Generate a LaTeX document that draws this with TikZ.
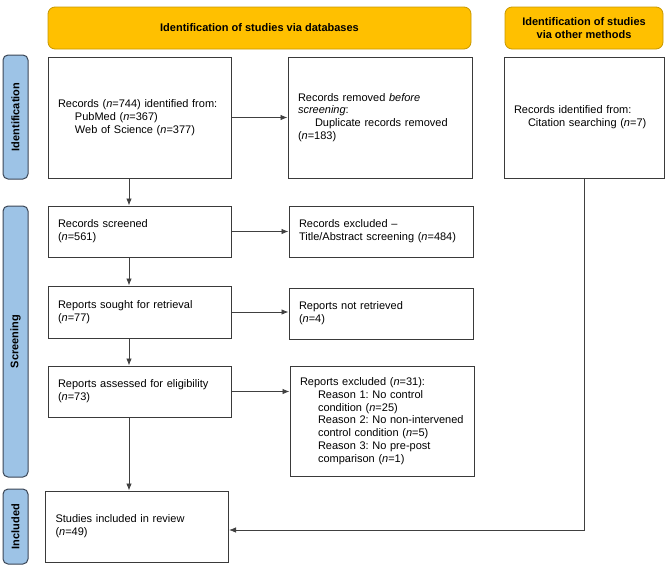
\documentclass[tikz,border=0pt]{standalone}
\usepackage{fontspec}
\setmainfont{Liberation Sans}
\usetikzlibrary{arrows.meta,calc}
\definecolor{hdrfill}{HTML}{FFC000}
\definecolor{hdrline}{HTML}{C89800}
\definecolor{sidefill}{HTML}{9DC3E6}
\definecolor{sideline}{HTML}{3B4656}
\definecolor{boxline}{HTML}{3A3A3A}
\definecolor{arrline}{HTML}{404040}
\newcommand{\nn}{\textit{n}}
\begin{document}
\begin{tikzpicture}[x=1pt,y=-1pt,
  every node/.style={font=\fontsize{11}{12.8}\selectfont\frenchspacing},
  hdr/.style={draw=hdrline,fill=hdrfill,rounded corners=7pt,line width=0.8pt,align=center,font=\fontsize{11}{12.8}\selectfont\bfseries,inner sep=0pt},
  side/.style={draw=sideline,fill=sidefill,rounded corners=5pt,line width=1pt,inner sep=0pt},
  sidetxt/.style={rotate=90,font=\fontsize{11}{12.8}\selectfont\bfseries},
  box/.style={draw=boxline,line width=1pt,align=left,inner ysep=0pt,inner xsep=10pt},
  arr/.style={draw=arrline,line width=0.8pt,-{Latex[length=7pt,width=5.5pt]}}
]
\useasboundingbox (0,0) rectangle (667,568);
% headers
\node[hdr,minimum width=423pt,minimum height=42pt] (h1) at (259.5,28) {Identification of studies via databases};
\node[hdr,minimum width=158pt,minimum height=42pt] (h2) at (584,28) {Identification of studies\\via other methods};
% side labels
\node[side,minimum width=25pt,minimum height=124pt] (sid) at (15.5,117) {};
\node[sidetxt] (sidt) at (sid.center) {Identification};
\node[side,minimum width=25pt,minimum height=271pt] (sscr) at (15.5,341.5) {};
\node[sidetxt] (sscrt) at (sscr.center) {Screening};
\node[side,minimum width=25pt,minimum height=75pt] (sinc) at (15.5,526.5) {};
\node[sidetxt] (sinct) at (sinc.center) {Included};
% boxes
\node[box,text width=163pt,minimum height=121pt] (b1) at (139.5,117.5)
  {Records (\nn=744) identified from:\\\hspace*{17pt}PubMed (\nn=367)\\\hspace*{17pt}Web of Science (\nn=377)};
\node[box,text width=164pt,minimum height=121pt] (b2) at (380,117.5)
  {Records removed \textit{before}\\\textit{screening}:\\\hspace*{17pt}Duplicate records removed\\(\nn=183)};
\node[box,text width=140pt,minimum height=121pt] (b3) at (584,117.5)
  {Records identified from:\\\hspace*{14pt}Citation searching (\nn=7)};
\node[box,text width=163pt,minimum height=51pt] (b4) at (139.5,231.5)
  {Records screened\\(\nn=561)};
\node[box,text width=164pt,minimum height=51pt] (b5) at (381,231.5)
  {Records excluded --\\Title/Abstract screening (\nn=484)};
\node[box,text width=163pt,minimum height=52pt] (b6) at (139.5,312)
  {Reports sought for retrieval\\(\nn=77)};
\node[box,text width=164pt,minimum height=51pt] (b7) at (381,313.5)
  {Reports not retrieved\\(\nn=4)};
\node[box,text width=163pt,minimum height=51pt] (b8) at (139.5,391.5)
  {Reports assessed for eligibility\\(\nn=73)};
\node[box,text width=164pt,minimum height=110pt] (b9) at (382,421)
  {Reports excluded (\nn=31):\\
   \hspace*{18pt}\mbox{Reason 1: No control}\\
   \hspace*{18pt}\mbox{condition (\nn=25)}\\
   \hspace*{18pt}\mbox{Reason 2: No non-intervened}\\
   \hspace*{18pt}\mbox{control condition (\nn=5)}\\
   \hspace*{18pt}\mbox{Reason 3: No pre-post}\\
   \hspace*{18pt}\mbox{comparison (\nn=1)}};
\node[box,text width=163pt,minimum height=71pt] (b10) at (137,526.5)
  {Studies included in review\\(\nn=49)};
% connectors
\draw[arr] (b1.east) -- (b2.west);
\draw[arr] (b4.east) -- (b5.west);
\draw[arr] (b6.east) -- (b6.east -| b7.west);
\draw[arr] (b8.east) -- (b8.east -| b9.west);
\draw[arr] (b1.south -| 129,0) -- (b4.north -| 129,0);
\draw[arr] (b4.south -| 129,0) -- (b6.north -| 129,0);
\draw[arr] (b6.south -| 129,0) -- (b8.north -| 129,0);
\draw[arr] (b8.south -| 129,0) -- (b10.north -| 129,0);
\draw[arr] (b3.south) |- ([yshift=-3.5pt]b10.east);
\end{tikzpicture}
\end{document}
